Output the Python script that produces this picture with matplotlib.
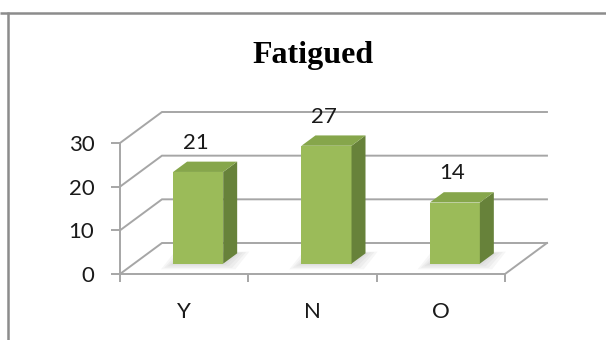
import matplotlib
matplotlib.use("Agg")
import matplotlib.pyplot as plt
from matplotlib.patches import Polygon
from matplotlib.lines import Line2D

# ---- data ----
title = "Fatigued"
categories = ["Y", "N", "O"]
values = [21, 27, 14]
y_ticks = [0, 10, 20, 30]

# ---- style ----
FRONT = "#9BBB59"
TOP = "#86A64B"
SIDE = "#67823A"
GRID = "#A6A6A6"
FRAME = "#8C8C8C"
LABEL_FONT = ["Lato", "DejaVu Sans"]

# oblique depth of the 3-D box, in data units (categories, values)
DEPTH_X = 0.327
DEPTH_Y = 7.1
BAR_HALF = 0.195          # half width of a bar's front face
BAR_D0, BAR_D1 = 1 / 3, 2 / 3   # depth span occupied by the bars

fig = plt.figure(figsize=(6.06, 3.40), dpi=100)
fig.patch.set_facecolor("white")

# outer frame (top and left edges)
fig.add_artist(Line2D([0, 1], [1 - 13 / 340] * 2, transform=fig.transFigure,
                      color=FRAME, lw=1.8, solid_capstyle="butt"))
fig.add_artist(Line2D([8 / 606] * 2, [0, 1 - 12 / 340], transform=fig.transFigure,
                      color=FRAME, lw=1.8, solid_capstyle="butt"))

fig.text(313.5 / 606, 1 - 63 / 340, title, ha="center", va="baseline",
         fontsize=23, fontweight="bold", family=["Liberation Serif", "DejaVu Serif"])

ax = fig.add_axes([120 / 606, 66 / 340, 385 / 606, 131 / 340])
ax.set_xlim(-0.5, len(categories) - 0.5)
ax.set_ylim(y_ticks[0], y_ticks[-1])
ax.set_facecolor("none")

x_lo, x_hi = -0.5, len(categories) - 0.5

# back wall gridlines and floor
for v in y_ticks:
    ax.plot([x_lo, x_lo + DEPTH_X, x_hi + DEPTH_X],
            [v, v + DEPTH_Y, v + DEPTH_Y],
            color=GRID, lw=1.4, clip_on=False, zorder=1,
            solid_joinstyle="miter")
ax.plot([x_hi, x_hi + DEPTH_X], [0, DEPTH_Y], color=GRID, lw=1.4,
        clip_on=False, zorder=1)

# bars
dx = (BAR_D1 - BAR_D0) * DEPTH_X
dy = (BAR_D1 - BAR_D0) * DEPTH_Y
for i, v in enumerate(values):
    cx = i + BAR_D0 * DEPTH_X
    x0, x1 = cx - BAR_HALF, cx + BAR_HALF
    yb = BAR_D0 * DEPTH_Y
    yt = v + yb

    # soft shadow on the floor
    for k in range(4):
        e = 0.02 + 0.025 * k
        ev = 0.25 + 0.35 * k
        shadow = [(x0 - e, yb - ev), (x1 + e, yb - ev),
                  (x1 + dx + e, yb + dy + ev * 0.3), (x0 + dx - e, yb + dy + ev * 0.3)]
        ax.add_patch(Polygon(shadow, closed=True, facecolor="#808080",
                             edgecolor="none", alpha=0.07, clip_on=False, zorder=1.5))

    ax.bar(cx, v, width=2 * BAR_HALF, bottom=yb, color=FRONT,
           edgecolor="none", clip_on=False, zorder=3)
    side = [(x1, yb), (x1 + dx, yb + dy), (x1 + dx, yt + dy), (x1, yt)]
    ax.add_patch(Polygon(side, closed=True, facecolor=SIDE, edgecolor="none",
                         clip_on=False, zorder=3))
    top = [(x0, yt), (x1, yt), (x1 + dx, yt + dy), (x0 + dx, yt + dy)]
    ax.add_patch(Polygon(top, closed=True, facecolor=TOP, edgecolor="none",
                         clip_on=False, zorder=3))

    ax.annotate(str(v), xy=(cx, yt), xytext=(-2, 21), textcoords="offset points",
                ha="center", va="center", fontsize=16, family=LABEL_FONT,
                color="#1a1a1a", zorder=4)

# axes: front edge of the floor and the value axis
for s in ("top", "right"):
    ax.spines[s].set_visible(False)
for s in ("left", "bottom"):
    ax.spines[s].set_color(GRID)
    ax.spines[s].set_linewidth(1.4)
    ax.spines[s].set_zorder(2)

ax.set_yticks(y_ticks)
ax.set_yticklabels([str(t) for t in y_ticks], family=LABEL_FONT, fontsize=16,
                   color="#1a1a1a")
ax.tick_params(axis="y", direction="out", length=6.5, width=1.4, color=GRID, pad=12)

ax.set_xticks([x_lo + k for k in range(len(categories) + 1)])
ax.set_xticklabels([])
ax.set_xticks(range(len(categories)), minor=True)
ax.set_xticklabels(categories, minor=True, family=LABEL_FONT, fontsize=16,
                   color="#1a1a1a")
ax.tick_params(axis="x", which="major", direction="out", length=6, width=1.4, color=GRID)
ax.tick_params(axis="x", which="minor", length=0, pad=20)

fig.savefig("out.png", dpi=100, facecolor="white")
